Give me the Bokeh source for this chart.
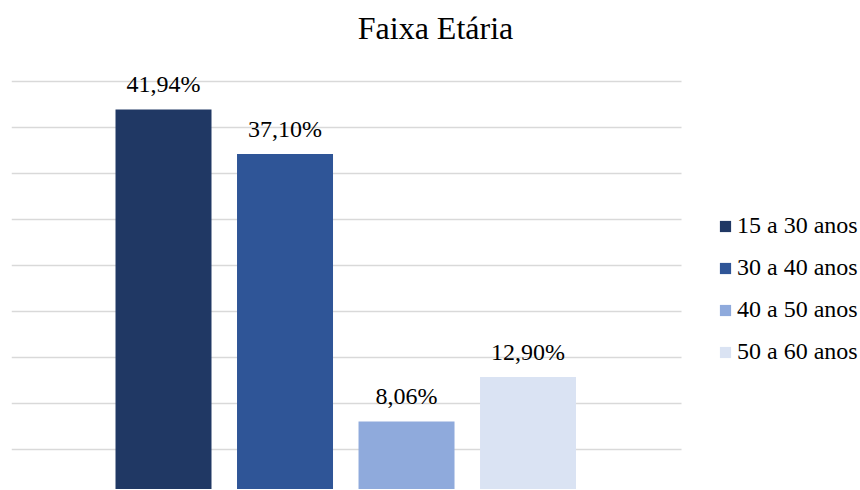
from bokeh.plotting import figure
from bokeh.models import ColumnDataSource, Range1d, FixedTicker, Legend, LegendItem, LabelSet, Label
from bokeh.core.properties import value
from bokeh.embed import file_html
from bokeh.resources import INLINE

title = "Faixa Etária"
categories = ["15 a 30 anos", "30 a 40 anos", "40 a 50 anos", "50 a 60 anos"]
values = [41.94, 37.10, 8.06, 12.90]
labels = ["41,94%", "37,10%", "8,06%", "12,90%"]
colors = ["#203864", "#2F5597", "#8FAADC", "#DAE3F3"]
grid_ticks = [0, 5, 10, 15, 20, 25, 30, 35, 40, 45]

FONT = "Liberation Serif"
X0, X1 = -0.251, 5.263   # extent of the plotting area (gridlines)

src = ColumnDataSource(dict(
    x=list(range(1, len(categories) + 1)),
    top=values,
    label=labels,
    cat=categories,
    color=colors,
))

p = figure(width=859, height=489, output_backend="svg", toolbar_location=None,
           x_range=Range1d(X0, 6.728), y_range=Range1d(0.673, 53.773),
           min_border_left=11, min_border_right=0, min_border_top=0, min_border_bottom=0)

r = p.vbar(x="x", top="top", bottom=0, width=0.79, fill_color="color", line_color=None, source=src)

p.add_layout(LabelSet(x="x", y="top", text="label", source=src, text_align="center",
                      text_baseline="alphabetic", y_offset=17, text_font=value(FONT),
                      text_font_size=value("24px"), text_color="#000000"))

p.add_layout(Label(x=424, y=462, x_units="screen", y_units="screen", text=title,
                   text_align="center", text_baseline="alphabetic", text_font=FONT,
                   text_font_size="32px", text_color="#000000"))

p.xaxis.visible = False
p.yaxis.visible = False
p.xgrid.visible = False
p.ygrid.ticker = FixedTicker(ticks=grid_ticks)
p.ygrid.grid_line_color = "#d9d9d9"
p.ygrid.grid_line_width = 1.5
p.ygrid.cross_bounds = (X0, X1)
p.outline_line_color = None

items = [LegendItem(label=c, renderers=[r], index=i) for i, c in enumerate(categories)]
legend = Legend(items=items, location=(707, 124), padding=0, margin=0,
                border_line_color=None, background_fill_alpha=0,
                glyph_width=14, glyph_height=14, label_standoff=5,
                label_text_font=FONT, label_text_font_size="24px",
                label_text_color="#000000", spacing=15)
p.add_layout(legend, "center")

open("out.html", "w").write(file_html(p, INLINE))
